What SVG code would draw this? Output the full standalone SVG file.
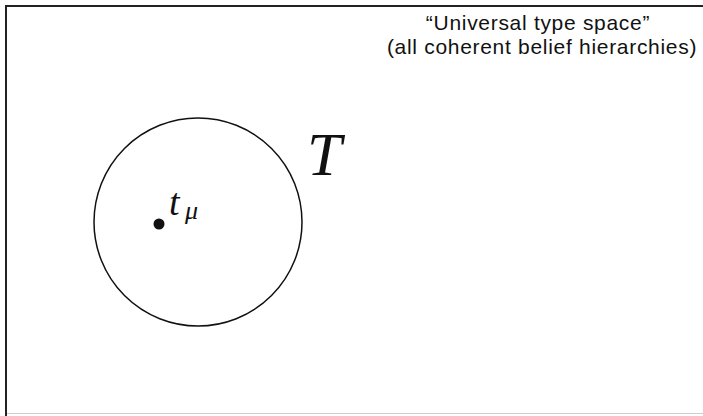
<svg xmlns="http://www.w3.org/2000/svg" width="703" height="416" viewBox="0 0 703 416">
<style>
.lbl{font-family:"Liberation Sans",Arial,sans-serif;font-size:21px;letter-spacing:0.7px;fill:#111;text-anchor:middle}
.math{font-family:"Liberation Serif",serif;font-style:italic;fill:#111}
</style>
<rect x="0" y="0" width="703" height="416" fill="#fff"/>
<g id="frame">
<line x1="6" y1="6" x2="703" y2="6" stroke="#222" stroke-width="2"/>
<line x1="6" y1="5" x2="6" y2="416" stroke="#222" stroke-width="2"/>
<line x1="7" y1="413.5" x2="703" y2="413.5" stroke="#ccc" stroke-width="1"/>
</g>
<g id="title">
<text class="lbl" x="538" y="30">“Universal type space”</text>
<text class="lbl" x="542" y="54">(all coherent belief hierarchies)</text>
</g>
<g id="setT">
<circle cx="198" cy="222" r="104" fill="none" stroke="#111" stroke-width="1.5"/>
<text class="math" x="307" y="175" font-size="62">T</text>
</g>
<g id="point">
<circle cx="159" cy="224" r="5.5" fill="#111"/>
<text class="math" x="169" y="215" font-size="38">t</text>
<text class="math" x="185" y="219" font-size="26">μ</text>
</g>
</svg>
